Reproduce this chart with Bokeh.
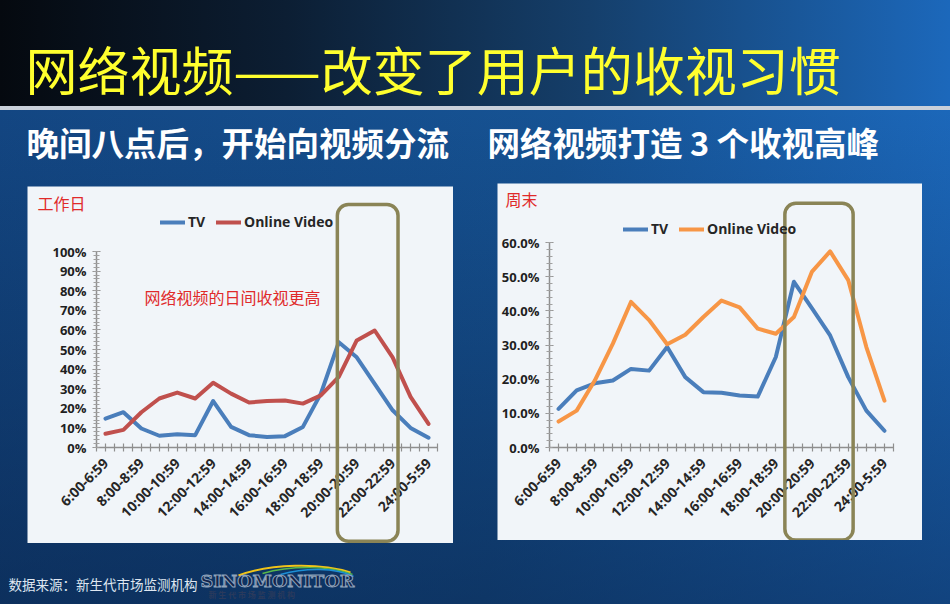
import math
from bokeh.plotting import figure
from bokeh.models import (Range1d, FixedTicker, NumeralTickFormatter, Label, BoxAnnotation,
                          Legend, LegendItem, Spacer)
from bokeh.layouts import column, row
from bokeh.embed import file_html
from bokeh.resources import INLINE

# ---------------- data ----------------
hours = ["6:00-6:59", "7:00-7:59", "8:00-8:59", "9:00-9:59", "10:00-10:59", "11:00-11:59",
         "12:00-12:59", "13:00-13:59", "14:00-14:59", "15:00-15:59", "16:00-16:59",
         "17:00-17:59", "18:00-18:59", "19:00-19:59", "20:00-20:59", "21:00-21:59",
         "22:00-22:59", "23:00-23:59", "24:00-5:59"]

weekday_tv = [0.147, 0.180, 0.097, 0.060, 0.068, 0.063, 0.237, 0.105, 0.063, 0.054,
              0.058, 0.105, 0.275, 0.537, 0.460, 0.325, 0.190, 0.100, 0.050]
weekday_online = [0.070, 0.090, 0.180, 0.250, 0.280, 0.250, 0.330, 0.275, 0.230, 0.237,
                  0.240, 0.224, 0.266, 0.360, 0.546, 0.597, 0.460, 0.258, 0.120]

weekend_tv = [0.113, 0.167, 0.188, 0.196, 0.230, 0.225, 0.294, 0.206, 0.162, 0.160,
              0.152, 0.149, 0.265, 0.485, 0.407, 0.328, 0.206, 0.108, 0.049]
weekend_online = [0.076, 0.108, 0.196, 0.304, 0.426, 0.373, 0.302, 0.330, 0.382, 0.430,
                  0.410, 0.348, 0.333, 0.382, 0.515, 0.574, 0.490, 0.294, 0.137]

series_names = ["TV", "Online Video"]

title_text = "网络视频——改变了用户的收视习惯"
subtitle_left = "晚间八点后，开始向视频分流"
subtitle_right = "网络视频打造 3 个收视高峰"
left_panel_title = "工作日"
right_panel_title = "周末"
left_note = "网络视频的日间收视更高"
source_text = "数据来源：新生代市场监测机构"
logo_text = "SINOMONITOR"
logo_sub = "新 生 代 市 场 监 测 机 构"

# highlight box (category-index space, value space)
left_box = dict(left=13.42, right=16.8, top=1.24, bottom=-0.478)
right_box = dict(left=13.0, right=16.77, top=0.715, bottom=-0.271)

CJK = "Noto Sans CJK SC"
LAT = "Open Sans"
BLUE = "#4a7ebb"
RED = "#c0504d"
ORANGE = "#f79646"
OLIVE = "#8a8456"
PANEL = "#f1f5f9"
NOTE_RED = "#e02a2a"

xs = [i + 0.5 for i in range(len(hours))]


def make_chart(width, height, mb, ymax, yfmt, ystep, tv, online, online_color,
               panel_title, title_pos, box, legend_loc, note=None, note_pos=None):
    ml, mr, mt, mbot = mb
    n = len(hours)
    pxx = (width - ml - mr) / n
    pxy = (height - mt - mbot) / ymax
    p = figure(width=width, height=height, output_backend="svg", toolbar_location=None,
               x_range=Range1d(-ml / pxx, n + mr / pxx),
               y_range=Range1d(-mbot / pxy, ymax + mt / pxy),
               min_border=0)
    p.background_fill_color = PANEL
    p.border_fill_color = PANEL
    p.outline_line_color = None
    p.grid.visible = False

    # x axis
    xa = p.xaxis[0]
    xa.fixed_location = 0
    xa.bounds = (0, n)
    xa.ticker = FixedTicker(ticks=[k * 0.5 for k in range(2 * n + 1)], minor_ticks=[])
    overrides = {}
    for k in range(2 * n + 1):
        overrides[k * 0.5] = ""
    for i, h in enumerate(hours):
        if i % 2 == 0:
            overrides[i + 0.5] = h
    xa.major_label_overrides = overrides
    xa.major_label_orientation = math.pi / 4
    xa.major_label_text_font = LAT
    xa.major_label_text_font_style = "bold"
    xa.major_label_text_font_size = "14px"
    xa.major_label_text_color = "#262626"
    xa.axis_line_color = "#8f8f8f"
    xa.axis_line_width = 1.5
    xa.major_tick_line_color = "#8f8f8f"
    xa.major_tick_line_width = 1.2
    xa.major_tick_in = 4
    xa.major_tick_out = 4
    xa.major_label_standoff = 9

    # y axis
    ya = p.yaxis[0]
    ya.fixed_location = 0
    ya.bounds = (0, ymax)
    nmaj = int(round(ymax / ystep))
    majors = [round(k * ystep, 4) for k in range(nmaj + 1)]
    minors = [round(k * ystep / 5, 4) for k in range(nmaj * 5 + 1)]
    ya.ticker = FixedTicker(ticks=majors, minor_ticks=minors)
    ya.formatter = NumeralTickFormatter(format=yfmt)
    ya.major_label_text_font = LAT
    ya.major_label_text_font_style = "bold"
    ya.major_label_text_font_size = "13px"
    ya.major_label_text_color = "#1f1f1f"
    ya.axis_line_color = "#8f8f8f"
    ya.axis_line_width = 1.5
    ya.major_tick_line_color = "#8f8f8f"
    ya.minor_tick_line_color = "#a0a0a0"
    ya.major_tick_in = 4
    ya.major_tick_out = 4
    ya.minor_tick_in = 3
    ya.minor_tick_out = 3
    ya.major_label_standoff = 6

    r_tv = p.line(xs, tv, line_color=BLUE, line_width=4, line_join="round", line_cap="round")
    r_on = p.line(xs, online, line_color=online_color, line_width=4, line_join="round",
                  line_cap="round")

    legend = Legend(items=[LegendItem(label=series_names[0], renderers=[r_tv]),
                           LegendItem(label=series_names[1], renderers=[r_on])],
                    orientation="horizontal", location=legend_loc,
                    background_fill_alpha=0, border_line_alpha=0, padding=0, margin=0,
                    spacing=8, glyph_width=25, glyph_height=16, label_height=16,
                    label_standoff=3, label_text_font=LAT, label_text_font_style="bold",
                    label_text_font_size="14px", label_text_color="#262626")
    p.add_layout(legend, "center")

    p.add_layout(BoxAnnotation(left=box["left"], right=box["right"], top=box["top"],
                               bottom=box["bottom"], fill_alpha=0, line_color=OLIVE,
                               line_alpha=1, line_width=3.5, border_radius=11))

    p.add_layout(Label(x=title_pos[0], y=title_pos[1], text=panel_title, text_font=CJK,
                       text_font_size="16px", text_color=NOTE_RED, text_baseline="middle"))
    if note:
        p.add_layout(Label(x=note_pos[0], y=note_pos[1], text=note, text_font=CJK,
                           text_font_size="16px", text_color=NOTE_RED,
                           text_baseline="middle"))
    return p


left = make_chart(426, 357, (69, 16, 65, 96), 1.0, "0%", 0.1, weekday_tv, weekday_online, RED,
                  left_panel_title, (-3.29, 1.25), left_box, (133, 312),
                  note=left_note, note_pos=(2.67, 0.768))
right = make_chart(425, 357, (52, 29, 59, 93), 0.6, "0.0%", 0.1, weekend_tv, weekend_online,
                   ORANGE, right_panel_title, (-2.43, 0.726), right_box, (126, 302))

# ---------------- header ----------------
hdr = figure(width=950, height=183, output_backend="svg", toolbar_location=None,
             x_range=Range1d(0, 950), y_range=Range1d(183, 0), min_border=0)
hdr.axis.visible = False
hdr.grid.visible = False
hdr.outline_line_color = None
hdr.background_fill_alpha = 0
hdr.border_fill_alpha = 0
hdr.add_layout(Label(x=25, y=68, text=title_text, text_font=CJK, text_font_size="52px",
                     text_color="#ffff2e", text_baseline="middle"))
hdr.add_layout(Label(x=26, y=141, text=subtitle_left, text_font=CJK, text_font_size="32.5px",
                     text_font_style="bold", text_color="#ffffff", text_baseline="middle"))
hdr.add_layout(Label(x=487, y=141, text=subtitle_right, text_font=CJK, text_font_size="32.5px",
                     text_font_style="bold", text_color="#ffffff", text_baseline="middle"))

# ---------------- footer ----------------
ftr = figure(width=950, height=61, output_backend="svg", toolbar_location=None,
             x_range=Range1d(0, 950), y_range=Range1d(604, 543), min_border=0)
ftr.axis.visible = False
ftr.grid.visible = False
ftr.outline_line_color = None
ftr.background_fill_alpha = 0
ftr.border_fill_alpha = 0
ftr.add_layout(Label(x=8, y=583, text=source_text, text_font=CJK, text_font_size="13.5px",
                     text_color="#dfe7f1", text_baseline="middle"))
ftr.bezier(x0=[238], y0=[575], x1=[350], y1=[572], cx0=[270], cy0=[563], cx1=[320],
           cy1=[562], line_color="#f0c419", line_width=2)
ftr.bezier(x0=[262], y0=[573], x1=[352], y1=[574], cx0=[290], cy0=[565], cx1=[330],
           cy1=[565], line_color="#58b84a", line_width=1.5)
ftr.bezier(x0=[280], y0=[574], x1=[353], y1=[576], cx0=[305], cy0=[567], cx1=[335],
           cy1=[567], line_color="#1c8fd6", line_width=1.5)
ftr.add_layout(Label(x=200, y=580, text=logo_text, text_font="DejaVu Serif",
                     text_font_size="17.5px", text_font_style="bold", text_color="#14244a",
                     text_outline_color="#8fa3bb", text_baseline="middle"))
ftr.add_layout(Label(x=208, y=594, text=logo_sub, text_font=CJK, text_font_size="8px",
                     text_font_style="bold", text_color="#2a3a5c", text_baseline="middle"))

# ---------------- layout ----------------
middle = row(Spacer(width=27, height=360),
             column(Spacer(width=426, height=3), left),
             Spacer(width=44, height=360),
             column(right, Spacer(width=425, height=3)),
             Spacer(width=28, height=360))

bg = ("linear-gradient(to right, #05090f 0%, #0c1e33 30%, #153f6b 62%, #1c68bb 100%) 0 0/100% 106px no-repeat, "
      "linear-gradient(#c9d0da, #c9d0da) 0 106px/100% 4px no-repeat, "
      "linear-gradient(to bottom, rgba(0,0,0,0) 0%, rgba(4,18,45,0.45) 100%) 0 110px/100% 494px no-repeat, "
      "linear-gradient(100deg, #134682 0%, #165394 55%, #1d6cc2 100%) 0 110px/100% 494px no-repeat")

page = column(hdr, middle, ftr, width=950, height=604, styles={"background": bg})

open("out.html", "w").write(file_html(page, INLINE))
